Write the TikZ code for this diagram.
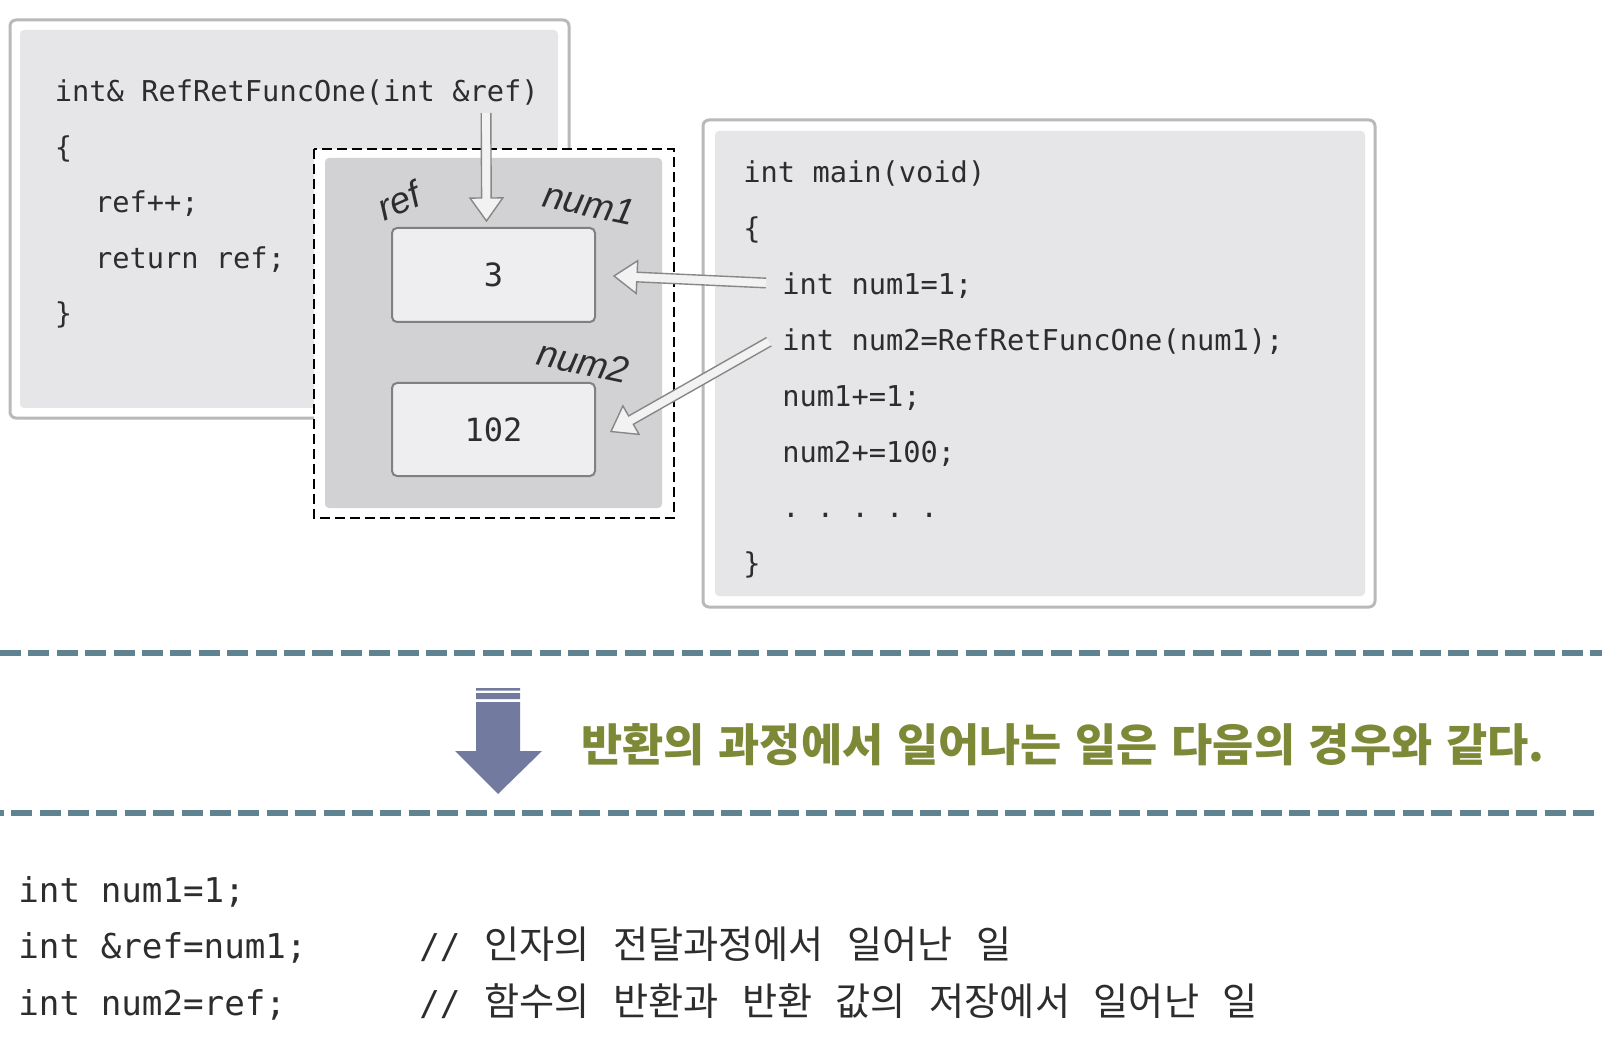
\documentclass[tikz,border=0pt]{standalone}
\usepackage{fontspec}
\setmonofont{DejaVu Sans Mono}
\setsansfont{Liberation Sans}
\newfontfamily\krhead{Noto Sans CJK KR}
\newfontfamily\krcode[WordSpace=2.75]{Noto Sans CJK KR}
\usetikzlibrary{calc,positioning}
\definecolor{panelEdge}{RGB}{185,185,185}
\definecolor{panelFill}{RGB}{230,230,232}
\definecolor{memFill}{RGB}{210,210,212}
\definecolor{cellFill}{RGB}{238,238,240}
\definecolor{cellEdge}{RGB}{128,128,128}
\definecolor{arrowEdge}{RGB}{135,135,135}
\definecolor{arrowFill}{RGB}{242,242,242}
\definecolor{sepTeal}{RGB}{95,131,144}
\definecolor{bigArrow}{RGB}{115,122,160}
\definecolor{captionOlive}{RGB}{126,137,56}
\definecolor{codeGray}{RGB}{45,45,45}
\newcommand{\capspace}{\spaceskip=6.8pt\relax}
\tikzset{
  panel/.style  ={draw=panelEdge, line width=1.5pt, fill=white, rounded corners=3pt},
  panelin/.style={fill=panelFill, rounded corners=2pt},
  memframe/.style={draw=black, line width=0.7pt, dash pattern=on 5pt off 2.5pt, fill=white},
  memin/.style  ={fill=memFill, rounded corners=2pt},
  cell/.style   ={draw=cellEdge, line width=1pt, fill=cellFill, rounded corners=2.5pt,
                  minimum width=101.5pt, minimum height=47pt, inner sep=0pt,
                  text=codeGray, font=\ttfamily\fontsize{16}{18}\selectfont},
  code/.style   ={anchor=base west, inner sep=0pt, text=codeGray,
                  font=\ttfamily\fontsize{14.35}{17}\selectfont},
  bigcode/.style={code, font=\ttfamily\fontsize{17.1}{20}\selectfont},
  krcmt/.style  ={code, font=\krcode\fontsize{19.1}{22}\selectfont},
  varname/.style={inner sep=0pt, text=codeGray, font=\sffamily\itshape\fontsize{18.5}{21}\selectfont},
  sepline/.style={draw=sepTeal, line width=3.2pt, dash pattern=on 10.5pt off 3.7pt},
  hollow/.style ={draw=arrowEdge, line width=0.7pt, fill=arrowFill, line join=miter},
}
% open arrow with two shaft lines: tail, tip
\newcommand{\hollowarrow}[2]{%
  \coordinate (hbase) at ($(#2)!11.5pt!(#1)$);
  \filldraw[hollow] ($(#1)!2.4pt!-90:(#2)$) -- ($(hbase)!2.4pt!-90:(#2)$)
    -- ($(hbase)!8.2pt!-90:(#2)$) -- (#2) -- ($(hbase)!8.2pt!90:(#2)$)
    -- ($(hbase)!2.4pt!90:(#2)$) -- ($(#1)!2.4pt!90:(#2)$);
}

\begin{document}
\begin{tikzpicture}[x=0.5pt, y=-0.5pt]
  \useasboundingbox (0,0) rectangle (1602,1048);
  % the called function
  \draw[panel] (10,20) rectangle (569,418);
  \fill[panelin] (20,30) rectangle (558,408);
  \node[code] (fnHead) at (54.5,102) {int\& RefRetFuncOne(int \&ref)};
  \node[code] (fnOpen) at (54.5,157.5) {\{};
  \node[code] (fnInc)  at (94.6,213) {ref++;};
  \node[code] (fnRet)  at (94.6,268.5) {return ref;};
  \node[code] (fnClose) at (54.5,324) {\}};
  \coordinate (argRef) at (486,113);

  % memory: one cell, two names
  \draw[memframe] (314,149) rectangle (674,518);
  \fill[memin] (325,158) rectangle (662,508);
  \node[cell] (valA) at (493.5,275) {3};
  \node[cell, minimum height=46.5pt] (valB) at (493.5,429.5) {102};
  \node[varname, rotate=24]  (lblRef)  at (399,201) {ref};
  \node[varname, rotate=-12] (lblNumA) at (589,204) {num1};
  \node[varname, rotate=-12] (lblNumB) at (583,362) {num2};

  % main
  \draw[panel] (703,120) rectangle (1375,607);
  \fill[panelin] (715,131) rectangle (1365,596);
  \node[code] (mnHead) at (743,183) {int main(void)};
  \node[code] (mnOpen) at (743,239) {\{};
  \node[code] (lnA) at (782,295) {int num1=1;};
  \node[code] (lnB) at (782,350.7) {int num2=RefRetFuncOne(num1);};
  \node[code] (lnC) at (782,406.3) {num1+=1;};
  \node[code] (lnD) at (782,462) {num2+=100;};
  \node[code] (lnE) at (782,517.7) {. . . . .};
  \node[code] (mnClose) at (743,573) {\}};

  % connectors
  \coordinate (tipRef) at ($(valA.north)+(-7,-6)$);
  \coordinate (tailA)  at ($(lnA.base west)+(-16,-12)$);
  \coordinate (tipA)   at ($(valA.east)+(18,1)$);
  \coordinate (tailB)  at ($(lnB.base west)+(-13,-9)$);
  \coordinate (tipB)   at ($(valB.east)+(15,2)$);
  \hollowarrow{argRef}{tipRef}
  \hollowarrow{tailA}{tipA}
  \hollowarrow{tailB}{tipB}

  % separators and the summary
  \draw[sepline] (0,653) -- (1602,653);
  \draw[sepline, dash phase=8.65pt] (0,813) -- (1602,813);
  \fill[bigArrow] (476,702) -- (520,702) -- (520,751) -- (542,751) -- (498,794)
    -- (455,751) -- (476,751) -- cycle;
  \fill[bigArrow] (476,688) rectangle (520,690.5) (476,693) rectangle (520,699);
  \node[anchor=base west, inner sep=0pt, text=captionOlive,
        font=\krhead\bfseries\fontsize{22.4}{26}\selectfont]
    (caption) at (581,761) {\capspace 반환의 과정에서 일어나는 일은 다음의 경우와 같다.};

  \node[bigcode] (eqA) at (18,902) {int num1=1;};
  \node[bigcode] (eqB) at (18,958) {int \&ref=num1;};
  \node[bigcode] (eqC) at (18,1015) {int num2=ref;};
  \node[krcmt] (cmtB) at (419,958) {{\ttfamily\fontsize{17.1}{20}\selectfont//} 인자의 전달과정에서 일어난 일};
  \node[krcmt] (cmtC) at (419,1015) {{\ttfamily\fontsize{17.1}{20}\selectfont//} 함수의 반환과 반환 값의 저장에서 일어난 일};
\end{tikzpicture}
\end{document}
